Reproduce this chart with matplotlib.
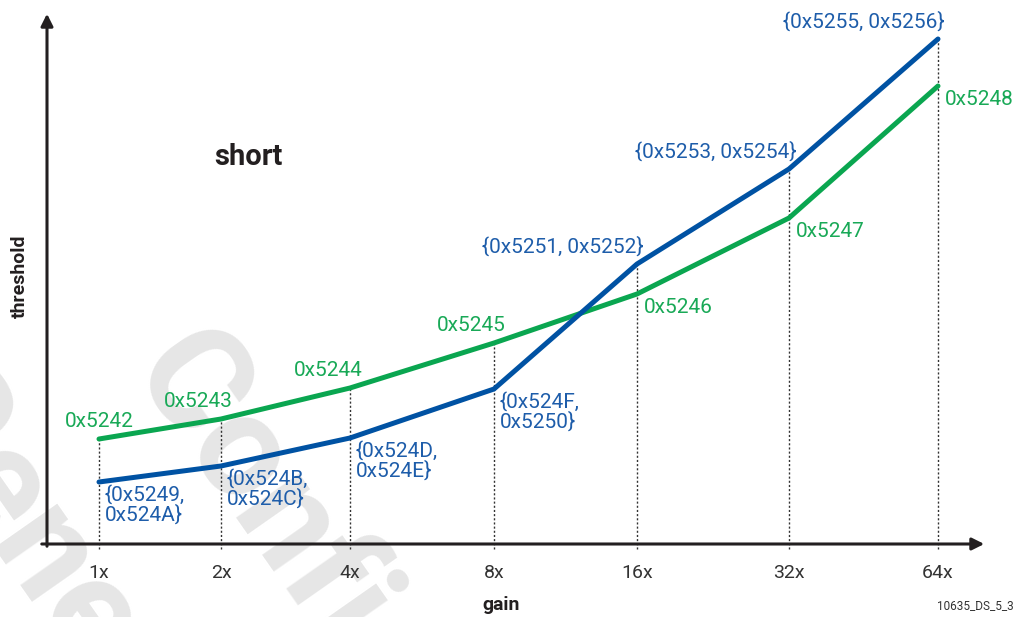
import matplotlib
matplotlib.use("Agg")
import matplotlib.pyplot as plt

# gain steps and their horizontal position (axis units, origin at the y-axis)
gains = ["1x", "2x", "4x", "8x", "16x", "32x", "64x"]
gain_x = [52, 174, 303, 447, 590, 742, 891]

# threshold curves (arbitrary units above the x-axis)
green_vals = [105, 125, 156, 201, 250, 326, 458]
blue_vals = [62, 78, 106, 155, 280, 375, 505]

green_labels = ["0x5242", "0x5243", "0x5244", "0x5245", "0x5246", "0x5247", "0x5248"]
blue_labels = ["{0x5249,\n0x524A}", "{0x524B,\n0x524C}", "{0x524D,\n0x524E}",
               "{0x524F,\n0x5250}", "{0x5251, 0x5252}", "{0x5253, 0x5254}",
               "{0x5255, 0x5256}"]

GREEN = "#0aa650"
BLUE = "#0052a3"
GREEN_TXT = "#19a957"
BLUE_TXT = "#1e5daa"
FONT = "Roboto"

W, H = 1020, 617
fig = plt.figure(figsize=(W / 100, H / 100), dpi=100)

# watermark, behind everything
wm = dict(color="#e6e6e6", fontsize=104, fontweight="bold", family=FONT,
          rotation=-55, rotation_mode="anchor", ha="left", va="baseline", zorder=-1)
fig.text(128 / W, 1 - 372 / H, "Confidential", **wm)
fig.text(-115 / W, 1 - 402 / H, "Generated", **wm)

ox, oy = 47, 544
ax = fig.add_axes([ox / W, (H - oy) / H, (W - ox) / W, oy / H])
ax.set_xlim(0, W - ox)
ax.set_ylim(0, oy)
ax.axis("off")
ax.patch.set_alpha(0)

# axes with arrows
ax.annotate("", xy=(940, 0), xytext=(-8, 0), xycoords="data",
            arrowprops=dict(arrowstyle="-|>", color="#231f20", lw=2.2,
                            mutation_scale=18), annotation_clip=False)
ax.annotate("", xy=(0, 533), xytext=(0, -5), xycoords="data",
            arrowprops=dict(arrowstyle="-|>", color="#231f20", lw=2.2,
                            mutation_scale=18), annotation_clip=False)

# dotted drop lines
tops = [max(g, b) for g, b in zip(green_vals, blue_vals)]
ax.vlines(gain_x, -5, tops, colors="#333333", linestyles=(0, (1.5, 1.5)),
          lw=1.0, zorder=1, clip_on=False)

ax.plot(gain_x, green_vals, color=GREEN, lw=3.6, solid_capstyle="round",
        solid_joinstyle="round", zorder=3)
ax.plot(gain_x, blue_vals, color=BLUE, lw=3.6, solid_capstyle="round",
        solid_joinstyle="round", zorder=3)

fs = 15
# green labels: first four above, rest below-right
for i, (x, y, s) in enumerate(zip(gain_x, green_vals, green_labels)):
    if i < 4:
        ax.annotate(s, (x, y), xytext=(-16 if i else 0, 6), textcoords="offset points",
                    ha="center", va="bottom", color=GREEN_TXT, fontsize=fs, family=FONT)
    else:
        ax.annotate(s, (x, y), xytext=(5, -3), textcoords="offset points",
                    ha="left", va="top", color=GREEN_TXT, fontsize=fs, family=FONT)

# blue labels: first four below-right, rest above-left
for i, (x, y, s) in enumerate(zip(gain_x, blue_vals, blue_labels)):
    if i < 4:
        ax.annotate(s, (x, y), xytext=(4, -2), textcoords="offset points",
                    ha="left", va="top", color=BLUE_TXT, fontsize=fs, family=FONT,
                    linespacing=1.0)
    else:
        ax.annotate(s, (x, y), xytext=(5, 5), textcoords="offset points",
                    ha="right", va="bottom", color=BLUE_TXT, fontsize=fs, family=FONT)

# tick labels
for x, g in zip(gain_x, gains):
    ax.annotate(g, (x, 0), xytext=(0, -21), textcoords="offset points",
                ha="center", va="center", color="#333333", fontsize=14, family=FONT,
                annotation_clip=False)

fig.text(248 / W, 1 - 157 / H, "short", ha="center", va="center",
         fontsize=21, fontweight="bold", color="#231f20", family=FONT)
fig.text(20 / W, 1 - 276 / H, "threshold", ha="center", va="center", rotation=90,
         fontsize=14, fontweight="bold", color="#231f20", family=FONT)
fig.text(501 / W, 1 - 605 / H, "gain", ha="center", va="center",
         fontsize=14, fontweight="bold", color="#231f20", family=FONT)
fig.text(1014 / W, 1 - 606 / H, "10635_DS_5_3", ha="right", va="center",
         fontsize=8.5, color="#333333", family=FONT)

fig.savefig("out.png", dpi=100)
